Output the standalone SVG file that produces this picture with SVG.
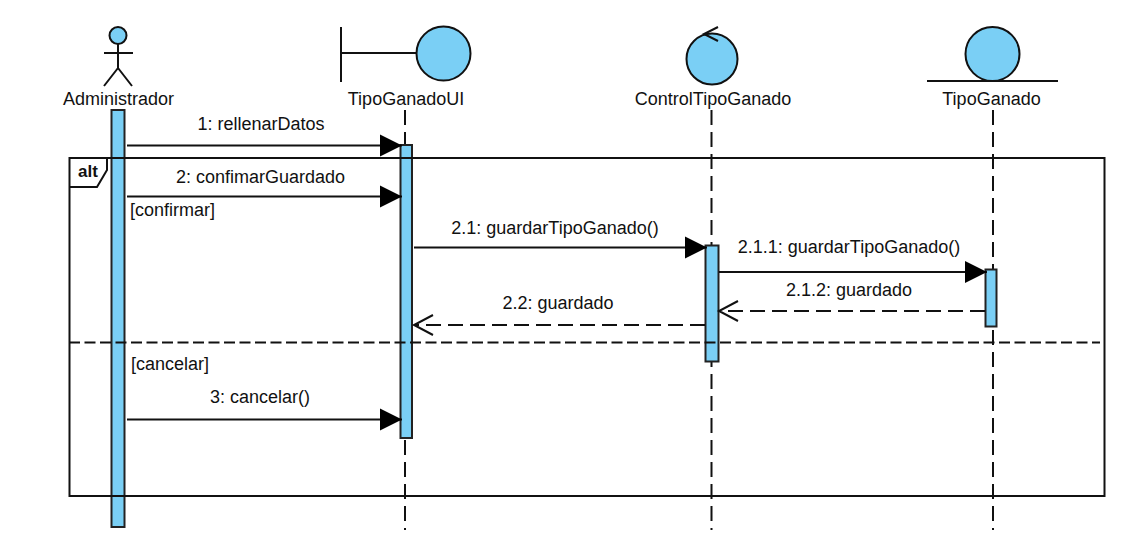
<svg xmlns="http://www.w3.org/2000/svg" width="1142" height="546" viewBox="0 0 1142 546">
<style>
text{font-family:"Liberation Sans",Arial,sans-serif;font-size:18px;fill:#111}
.m{text-anchor:middle}
.s{fill:#7ACFF5;stroke:#111;stroke-width:2}
.l{fill:none;stroke:#111;stroke-width:2}
.life{fill:none;stroke:#111;stroke-width:2;stroke-dasharray:15 7}
.bar{fill:#7ACFF5;stroke:#222;stroke-width:2}
.call{fill:none;stroke:#111;stroke-width:2;marker-end:url(#solid)}
.ret{fill:none;stroke:#111;stroke-width:2;stroke-dasharray:15 7;marker-end:url(#open)}
</style>
<defs>
<marker id="solid" markerUnits="userSpaceOnUse" markerWidth="24" markerHeight="24" refX="22" refY="11" orient="auto" viewBox="0 0 24 24" overflow="visible"><path d="M0 0L22 11L0 22Z" fill="#000"/></marker>
<marker id="open" markerUnits="userSpaceOnUse" markerWidth="24" markerHeight="24" refX="19" refY="10" orient="auto" viewBox="0 0 24 24" overflow="visible"><path d="M0 0L19 10L0 20" fill="none" stroke="#111" stroke-width="2"/></marker>
</defs>
<g id="lifelines">
<path class="life" d="M405 110V530"/>
<path class="life" d="M711.500 110V530"/>
<path class="life" d="M993 110V530"/>
</g>
<g id="node-administrador">
<circle class="s" cx="118" cy="35.500" r="8.500"/>
<path class="l" d="M104 53H133M118 44V68M118 68L104 86M118 68L132 86"/>
<text class="m" x="118.500" y="105">Administrador</text>
<rect class="bar" x="111.500" y="110" width="13" height="417"/>
</g>
<g id="node-tipoganadoui">
<path class="l" d="M341 27V82M341 53H416"/>
<circle class="s" cx="443.500" cy="53.500" r="27"/>
<text class="m" x="406" y="105">TipoGanadoUI</text>
<rect class="bar" x="400.500" y="145" width="11.500" height="293"/>
</g>
<g id="node-controltipoganado">
<circle class="s" cx="712" cy="59" r="25.500"/>
<path class="l" d="M718 27L704 34L718 41"/>
<text class="m" x="713" y="105">ControlTipoGanado</text>
<rect class="bar" x="705.500" y="245.500" width="13" height="116"/>
</g>
<g id="node-tipoganado">
<circle class="s" cx="992.500" cy="54" r="27"/>
<path class="l" d="M927 81H1058"/>
<text class="m" x="991.500" y="105">TipoGanado</text>
<rect class="bar" x="985.500" y="269.500" width="11" height="57"/>
</g>
<g id="frame-alt">
<rect class="l" x="69.500" y="158" width="1035" height="338"/>
<path class="l" d="M69.500 187H97L107 170V158" fill="#fff"/>
<text x="78" y="177" style="font-weight:bold;font-size:17px">alt</text>
<path class="l" d="M69 342.500H1100" stroke-dasharray="11 4.500"/>
<text x="130" y="216">[confirmar]</text>
<text x="131" y="370">[cancelar]</text>
</g>
<g id="connectors">
<path class="call" d="M127 145.500H402"/>
<path class="call" d="M127 196.500H402"/>
<path class="call" d="M414 247.500H707"/>
<path class="call" d="M719 272H987"/>
<path class="ret" d="M985 311H719"/>
<path class="ret" d="M705 325H414"/>
<path class="call" d="M127 419.500H402"/>
</g>
<g id="labels">
<text class="m" x="261" y="130">1: rellenarDatos</text>
<text class="m" x="260.500" y="183">2: confimarGuardado</text>
<text class="m" x="555" y="234">2.1: guardarTipoGanado()</text>
<text class="m" x="849" y="253">2.1.1: guardarTipoGanado()</text>
<text class="m" x="849" y="296">2.1.2: guardado</text>
<text class="m" x="558" y="309">2.2: guardado</text>
<text class="m" x="260" y="403">3: cancelar()</text>
</g>
</svg>
